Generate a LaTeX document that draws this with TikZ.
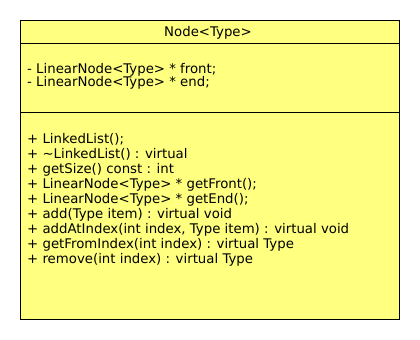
\documentclass[tikz,border=0pt]{standalone}
\usepackage{fontspec}
\setmainfont{DejaVu Sans}
\definecolor{classfill}{RGB}{255,255,128}
\begin{document}
\begin{tikzpicture}[x=1bp,y=-1bp,
  classbox/.style={draw=black,line width=1.1bp,fill=classfill},
  divider/.style={draw=black,line width=1.1bp},
  member/.style={anchor=base west,inner sep=0pt,font=\fontsize{13.3bp}{15bp}\selectfont},
  title/.style={anchor=base,inner sep=0pt,font=\fontsize{13.3bp}{15bp}\selectfont}]
  \useasboundingbox (0,0) rectangle (420,340);
  % class outline and compartments
  \path[classbox] (20.5,20.5) rectangle (399.5,319.5);
  \coordinate (hl) at (20.5,43.5);  \coordinate (hr) at (399.5,43.5);
  \coordinate (sl) at (20.5,112.5); \coordinate (sr) at (399.5,112.5);
  \draw[divider] (hl) -- (hr);
  \draw[divider] (sl) -- (sr);
  % class name
  \node[title] (name) at (208,36) {Node<Type>};
  % attributes
  \node[member] (a1) at (27,73) {- LinearNode<Type> * front;};
  \node[member] (a2) at (27,86) {- LinearNode<Type> * end;};
  % operations
  \node[member] (m1) at (27,143) {+ LinkedList();};
  \node[member] (m2) at (27,158) {+ \char"007E LinkedList() : virtual};
  \node[member] (m3) at (27,173) {+ getSize() const : int};
  \node[member] (m4) at (27,188) {+ LinearNode<Type> * getFront();};
  \node[member] (m5) at (27,203) {+ LinearNode<Type> * getEnd();};
  \node[member] (m6) at (27,218) {+ add(Type item) : virtual void};
  \node[member] (m7) at (27,233) {+ addAtIndex(int index, Type item) : virtual void};
  \node[member] (m8) at (27,248) {+ getFromIndex(int index) : virtual Type};
  \node[member] (m9) at (27,263) {+ remove(int index) : virtual Type};
\end{tikzpicture}
\end{document}
